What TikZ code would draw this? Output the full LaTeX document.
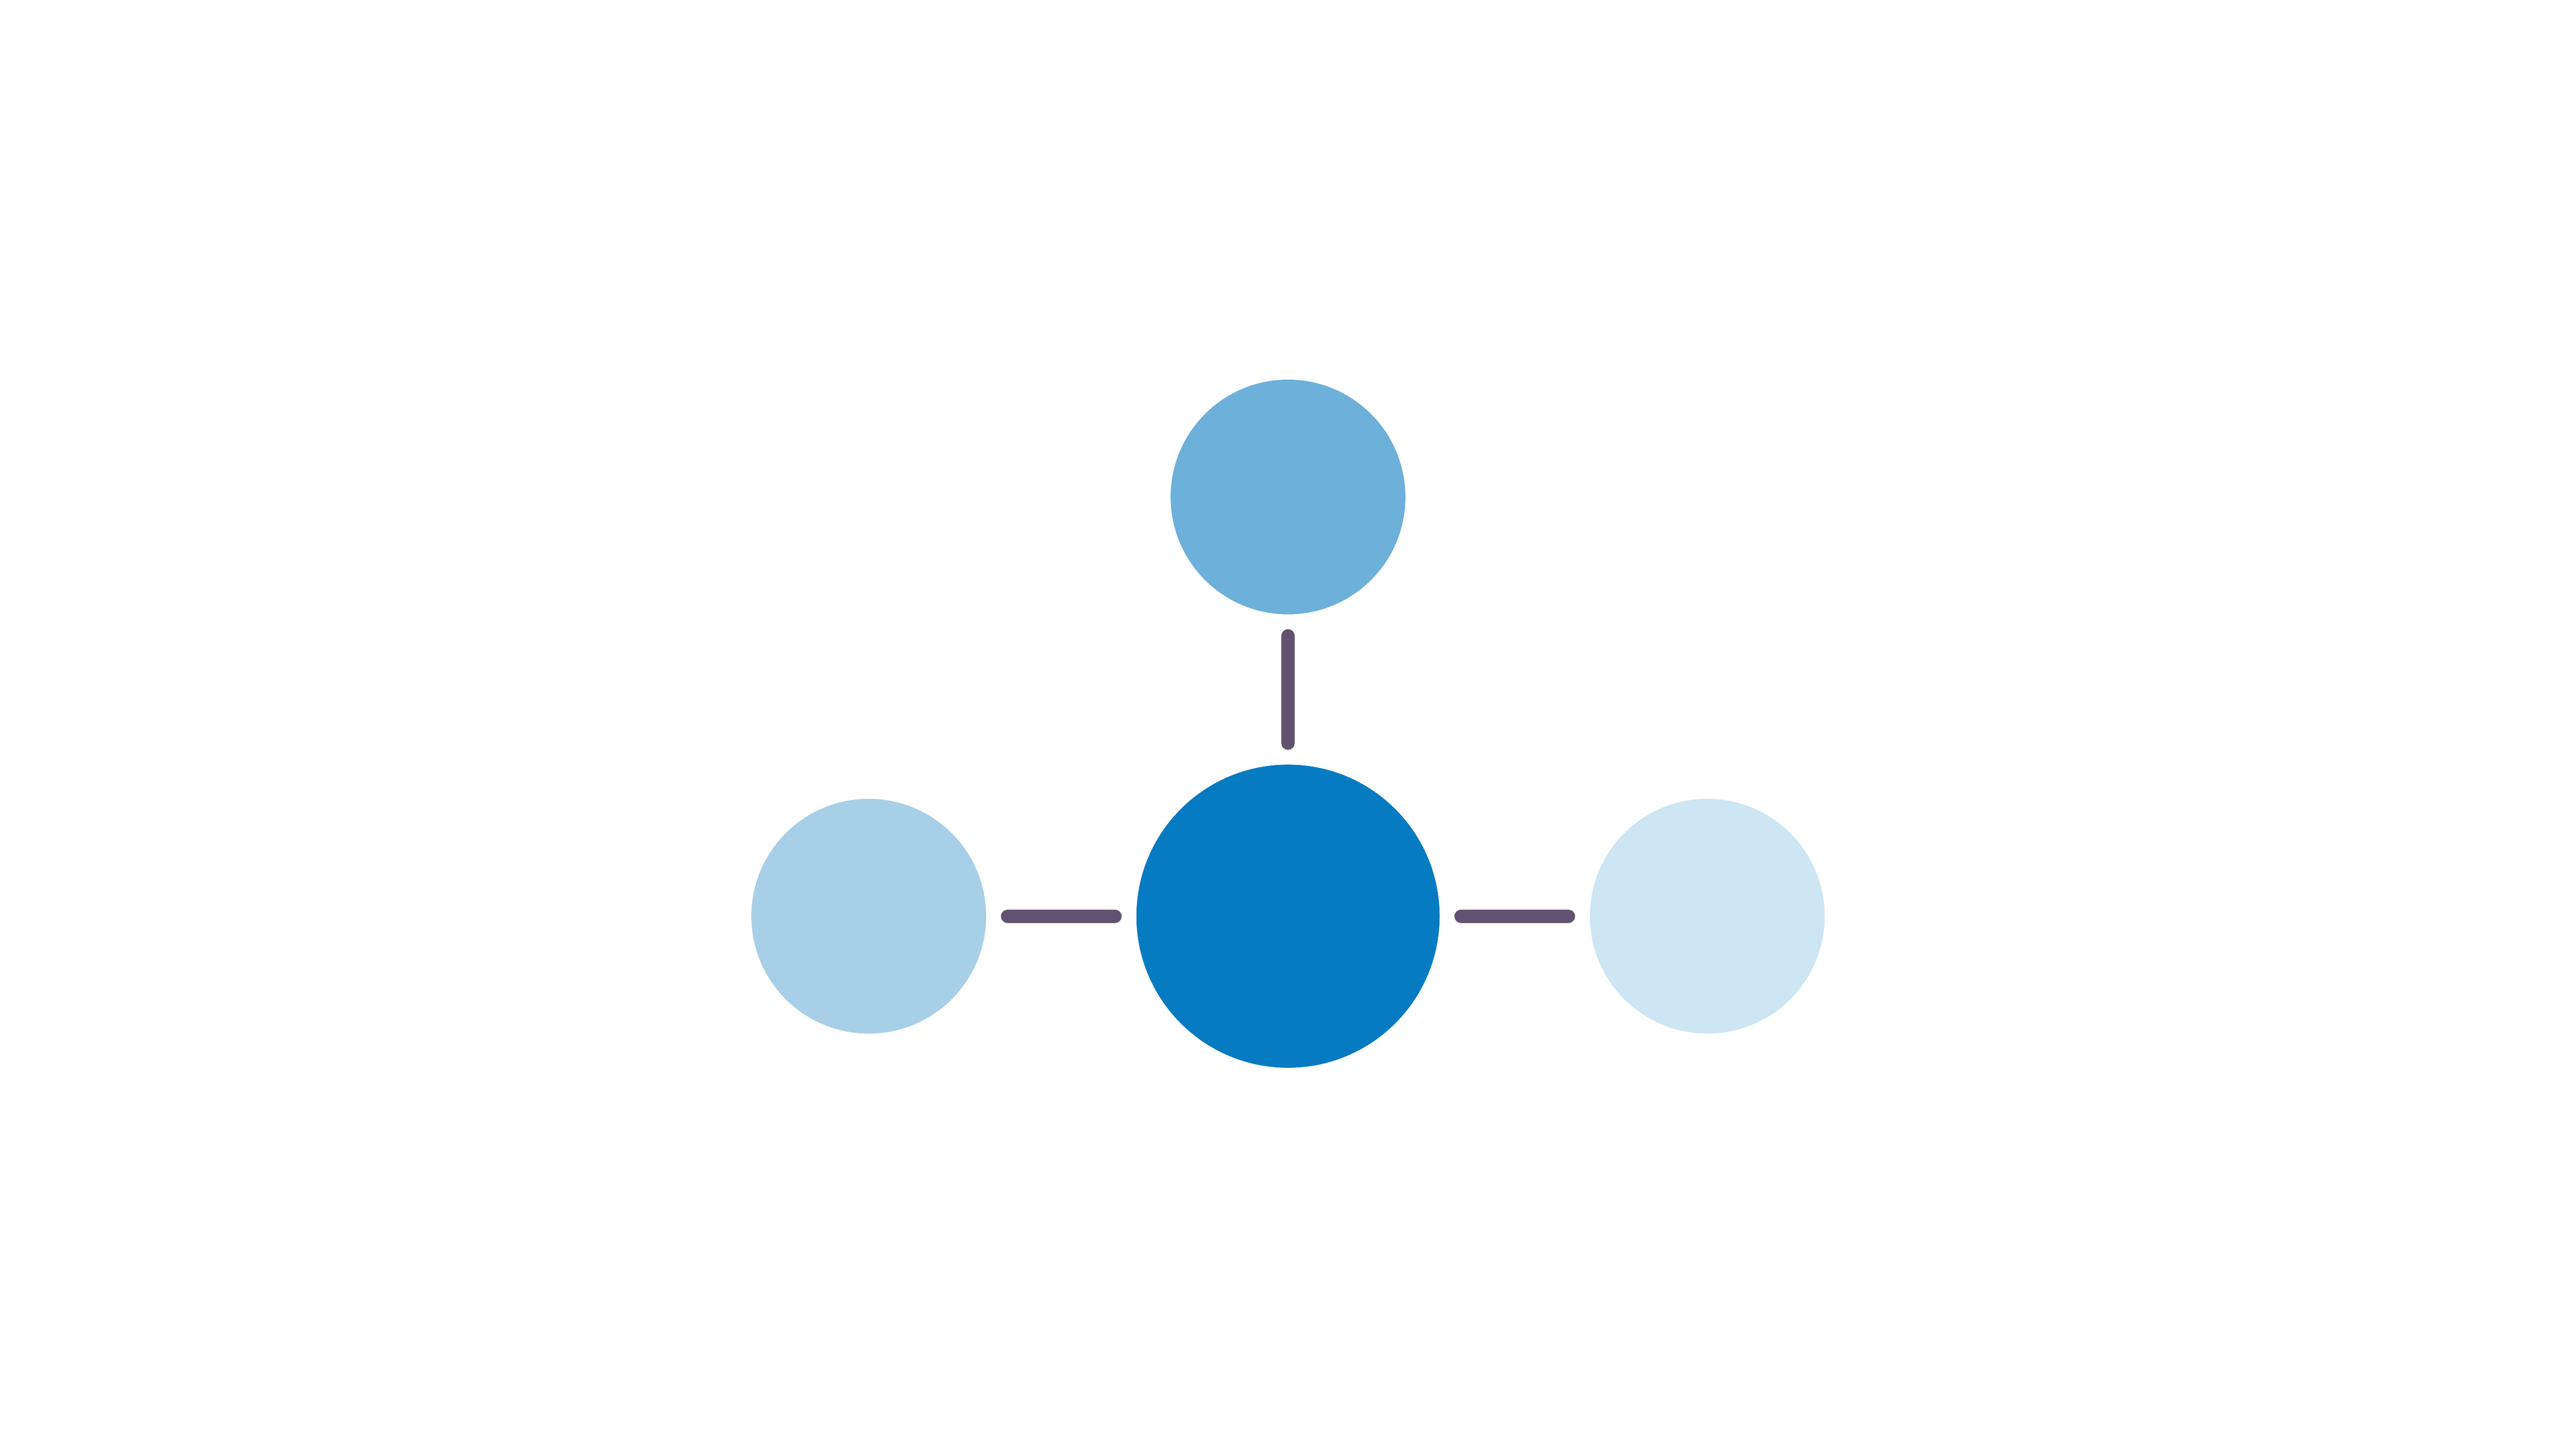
\documentclass[tikz,border=0pt]{standalone}
\definecolor{cmain}{HTML}{077BC1}
\definecolor{ctop}{HTML}{6DB0DA}
\definecolor{cleft}{HTML}{A7CFE8}
\definecolor{cright}{HTML}{CEE5F3}
\definecolor{clink}{HTML}{61536F}
\begin{document}
\begin{tikzpicture}[x=1pt,y=1pt,
  ball/.style={circle,inner sep=0pt,outer sep=0pt,draw=none,minimum size=70pt},
  bigball/.style={ball,minimum size=90.4pt},
  link/.style={draw=clink,line width=4pt,line cap=round,shorten <=6.4pt,shorten >=6.4pt}]
\path[use as bounding box,fill=white] (0,0) rectangle (768,432);
\node[bigball,fill=cmain] (c) at (384,158.8) {};
\node[ball,fill=ctop] (t) at (384,283.8) {};
\node[ball,fill=cleft] (l) at (259,158.8) {};
\node[ball,fill=cright] (r) at (509,158.8) {};
\draw[link] (t) -- (c);
\draw[link] (l) -- (c);
\draw[link] (c) -- (r);
\end{tikzpicture}
\end{document}
